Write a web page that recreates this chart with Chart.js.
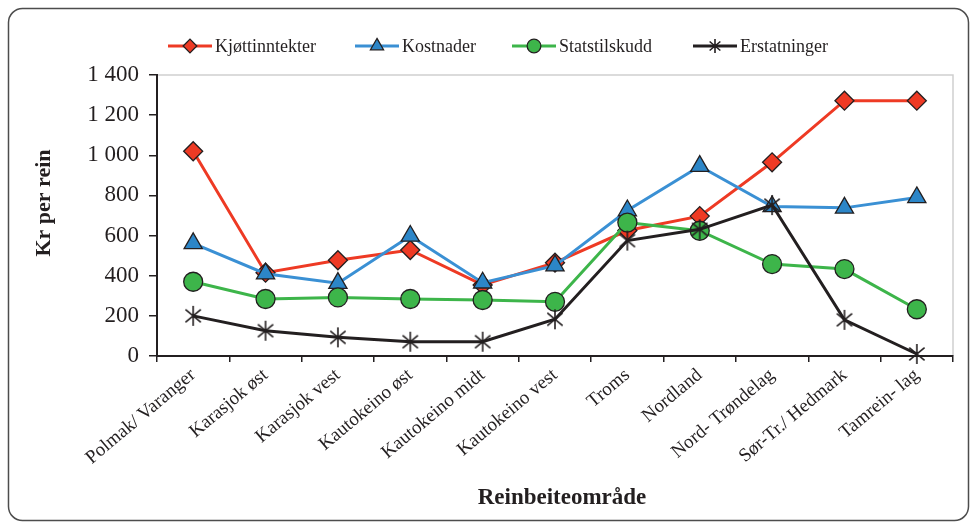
<!DOCTYPE html>
<html>
<head>
<meta charset="utf-8">
<script src="https://cdn.jsdelivr.net/npm/chart.js@4/dist/chart.umd.min.js"></script>
<style>
  html, body { margin: 0; padding: 0; background: #fff; }
  #wrap { position: relative; width: 971px; height: 528px; }
</style>
</head>
<body>
<div id="wrap"><canvas id="reinChart" width="971" height="528"></canvas></div>
<script>
const categories = ['Polmak/ Varanger', 'Karasjok øst', 'Karasjok vest', 'Kautokeino øst', 'Kautokeino midt',
    'Kautokeino vest', 'Troms', 'Nordland', 'Nord- Trøndelag', 'Sør-Tr./ Hedmark', 'Tamrein- lag'];
const kjottinntekter = [1020, 415, 477, 528, 354, 465, 625, 697, 965, 1272, 1272];
const kostnader = [561, 410, 363, 598, 365, 450, 725, 946, 745, 738, 790];
const statstilskudd = [370, 284, 292, 284, 279, 270, 665, 624, 458, 433, 233];
const erstatninger = [200, 126, 93, 71, 71, 183, 575, 631, 752, 180, 10];
const yTickValues = [0, 200, 400, 600, 800, 1000, 1200, 1400];
const yTickLabels = ['0', '200', '400', '600', '800', '1 000', '1 200', '1 400'];

const serif = '"Liberation Serif", "Times New Roman", serif';
const markBorder = '#231F20';

// asterisk marker (x with a vertical bar)
function makeAsterisk(size) {
    const c = document.createElement('canvas');
    c.width = size; c.height = size;
    const g = c.getContext('2d');
    const m = size / 2, r = size / 2 - 1;
    g.strokeStyle = '#231F20';
    g.lineWidth = 1.6;
    g.beginPath();
    g.moveTo(m, m - r); g.lineTo(m, m + r);
    const a = 40 * Math.PI / 180;
    g.moveTo(m - r * Math.cos(a), m - r * Math.sin(a)); g.lineTo(m + r * Math.cos(a), m + r * Math.sin(a));
    g.moveTo(m - r * Math.cos(a), m + r * Math.sin(a)); g.lineTo(m + r * Math.cos(a), m - r * Math.sin(a));
    g.stroke();
    return c;
}
const asterisk = makeAsterisk(22);
const asteriskSmall = makeAsterisk(16);

const series = [
    { label: 'Kjøttinntekter', data: kjottinntekter, line: '#EE3A24', fill: '#EE3A24', style: 'rectRot', radius: 9.5 },
    { label: 'Kostnader', data: kostnader, line: '#3A90D4', fill: '#2C86C8', style: 'triangle', radius: 10.5 },
    { label: 'Statstilskudd', data: statstilskudd, line: '#3DB54A', fill: '#3DB54A', style: 'circle', radius: 9.5 },
    { label: 'Erstatninger', data: erstatninger, line: '#231F20', fill: '#231F20', style: asterisk, legendStyle: asteriskSmall, radius: 10 }
];

// frame, plot border, titles and legend
const decorations = {
    id: 'decorations',
    beforeDraw(chart) {
        const ctx = chart.ctx;
        const a = chart.chartArea;
        ctx.save();
        ctx.strokeStyle = '#4d4d4d';
        ctx.lineWidth = 1.5;
        ctx.beginPath();
        ctx.roundRect(8.5, 8.5, 960, 512, 14);
        ctx.stroke();
        ctx.strokeStyle = '#cfcfcf';
        ctx.lineWidth = 1.5;
        ctx.beginPath();
        ctx.moveTo(a.left, a.top);
        ctx.lineTo(a.right, a.top);
        ctx.lineTo(a.right, a.bottom);
        ctx.stroke();
        ctx.restore();
    },
    afterDraw(chart) {
        const ctx = chart.ctx;
        ctx.save();
        ctx.fillStyle = '#231F20';
        // y title
        ctx.font = 'bold 22px ' + serif;
        ctx.textAlign = 'center';
        ctx.textBaseline = 'middle';
        ctx.translate(44, 203);
        ctx.rotate(-Math.PI / 2);
        ctx.fillText('Kr per rein', 0, 0);
        ctx.setTransform(1, 0, 0, 1, 0, 0);
        // x title
        ctx.font = 'bold 23px ' + serif;
        ctx.fillText('Reinbeiteområde', 562, 498);
        // legend
        const starts = [168, 355, 512, 693];
        ctx.font = '18px ' + serif;
        ctx.textAlign = 'left';
        series.forEach((s, i) => {
            const x0 = starts[i], y = 46;
            ctx.strokeStyle = s.line;
            ctx.lineWidth = 3;
            ctx.beginPath();
            ctx.moveTo(x0, y); ctx.lineTo(x0 + 44, y);
            ctx.stroke();
            ctx.fillStyle = s.fill;
            ctx.strokeStyle = markBorder;
            ctx.lineWidth = 1.3;
            Chart.helpers.drawPoint(ctx, { pointStyle: s.legendStyle || s.style, radius: s.radius * 0.72, rotation: 0, borderWidth: 1.3 }, x0 + 22, y);
            ctx.fillStyle = '#231F20';
            ctx.fillText(s.label, x0 + 47, y + 1);
        });
        ctx.restore();
    }
};

new Chart(document.getElementById('reinChart'), {
    type: 'line',
    data: {
        labels: categories,
        datasets: series.map((s, i) => ({
            label: s.label,
            data: s.data,
            order: series.length - i,
            clip: false,
            borderColor: s.line,
            borderWidth: 3,
            tension: 0,
            pointStyle: s.style,
            pointRadius: s.radius,
            pointBackgroundColor: s.fill,
            pointBorderColor: markBorder,
            pointBorderWidth: 1.3
        }))
    },
    options: {
        responsive: false,
        animation: false,
        events: [],
        layout: { padding: { top: 75, right: 18, left: 0, bottom: 0 } },
        scales: {
            x: {
                offset: true,
                afterFit(scale) { scale.height = 172; },
                border: { color: '#231F20', width: 2 },
                grid: { offset: true, drawOnChartArea: false, color: '#231F20', tickLength: 6, lineWidth: 1.5 },
                ticks: {
                    color: '#231F20',
                    font: { family: serif, size: 19 },
                    minRotation: 40,
                    maxRotation: 40,
                    padding: 2,
                    autoSkip: false
                }
            },
            y: {
                min: 0,
                max: 1400,
                afterFit(scale) { scale.width = 157; },
                afterBuildTicks(scale) { scale.ticks = yTickValues.map(v => ({ value: v })); },
                border: { color: '#231F20', width: 2 },
                grid: { drawOnChartArea: false, color: '#231F20', tickLength: 8, lineWidth: 1.5 },
                ticks: {
                    color: '#231F20',
                    font: { family: serif, size: 23 },
                    padding: 10,
                    callback: (v) => yTickLabels[yTickValues.indexOf(v)]
                }
            }
        },
        plugins: {
            legend: { display: false },
            tooltip: { enabled: false }
        }
    },
    plugins: [decorations]
});
</script>
</body>
</html>
